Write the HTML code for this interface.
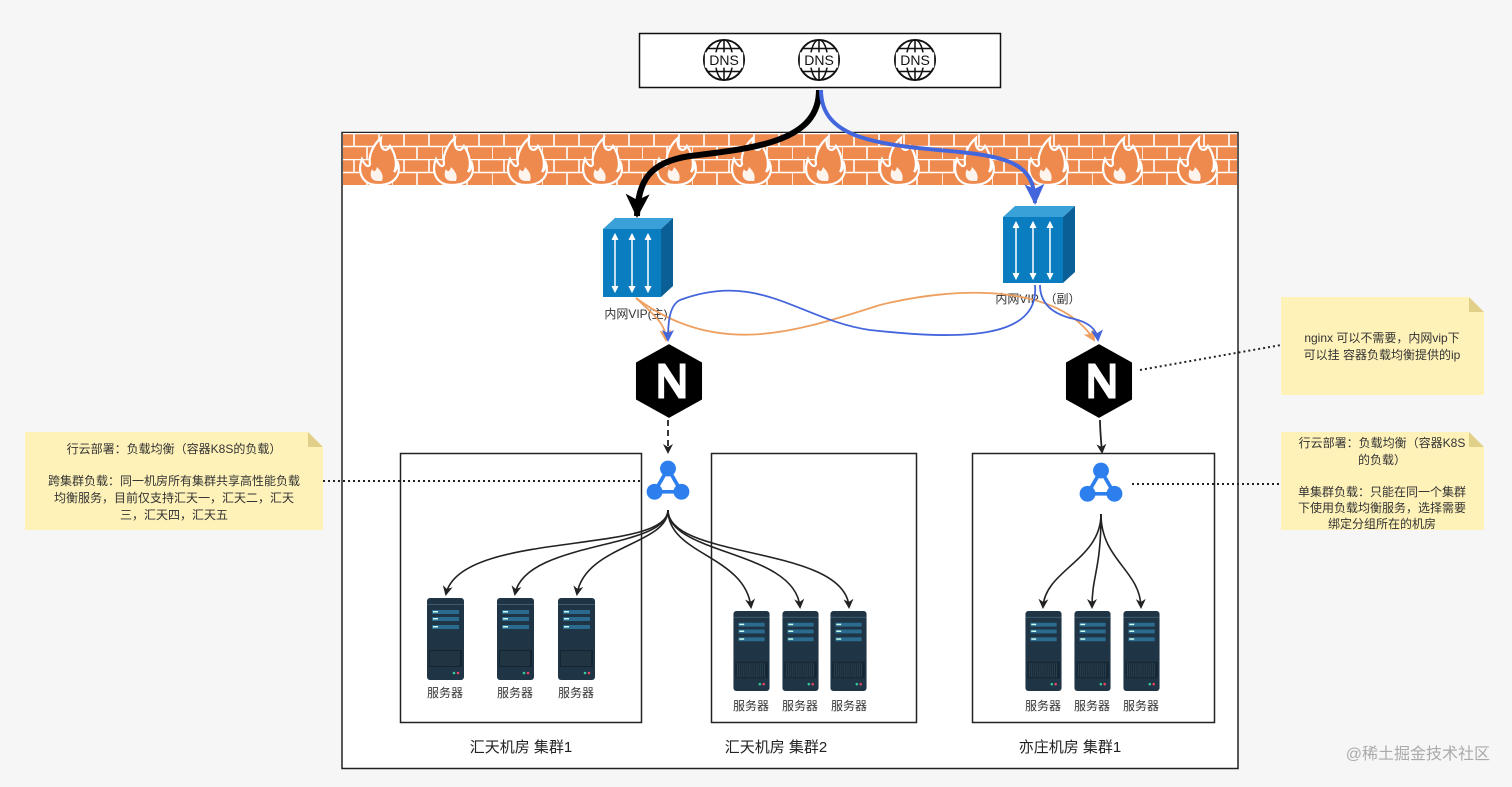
<!DOCTYPE html>
<html><head><meta charset="utf-8"><style>
html,body{margin:0;padding:0;background:#f6f6f6;}
svg{display:block;font-family:"Liberation Sans","Noto Sans CJK SC",sans-serif;}
</style></head><body>
<svg width="1512" height="787" viewBox="0 0 1512 787" xmlns="http://www.w3.org/2000/svg">
<defs>
<pattern id="brick" x="342" y="133" width="50" height="26" patternUnits="userSpaceOnUse">
<rect width="50" height="26" fill="#ef8a4f"/>
<path d="M0 0.5H50M0 13.5H50M12 0V13M37 0V13M0 13V26M25 13V26" stroke="#fff" stroke-width="1.6"/>
</pattern>
<marker id="ab" markerWidth="10" markerHeight="10" refX="8" refY="5" orient="auto" markerUnits="userSpaceOnUse"><path d="M0 0L10 5L0 10L3 5Z" fill="#222"/></marker>
<marker id="abk" markerWidth="30" markerHeight="30" refX="22" refY="15" orient="auto" markerUnits="userSpaceOnUse"><path d="M0 3L24 15L0 27L6 15Z" fill="#000"/></marker>
<marker id="abl" markerWidth="26" markerHeight="26" refX="19" refY="13" orient="auto" markerUnits="userSpaceOnUse"><path d="M0 3L21 13L0 23L5 13Z" fill="#4466dd"/></marker>
<marker id="abb" markerWidth="12" markerHeight="12" refX="10" refY="6" orient="auto" markerUnits="userSpaceOnUse"><path d="M0 0L12 6L0 12L3 6Z" fill="#4466dd"/></marker>
<marker id="abo" markerWidth="12" markerHeight="12" refX="10" refY="6" orient="auto" markerUnits="userSpaceOnUse"><path d="M0 0L12 6L0 12L3 6Z" fill="#eea060"/></marker>
<symbol id="srv" viewBox="0 0 37 82">
<rect x="0" y="0" width="37" height="82" rx="3" fill="#1f3545"/>
<rect x="0" y="6" width="37" height="1" fill="#3d5a6e"/>
<rect x="5" y="12" width="27" height="4" fill="#2c6b90"/><rect x="6" y="13" width="5" height="1.5" fill="#cfe"/>
<rect x="5" y="19" width="27" height="4" fill="#2c6b90"/><rect x="6" y="20" width="5" height="1.5" fill="#cfe"/>
<rect x="5" y="27" width="27" height="4" fill="#2c6b90"/><rect x="6" y="28" width="5" height="1.5" fill="#cfe"/>
<rect x="2" y="52" width="33" height="17" fill="#142430"/>
<path d="M4 53V68M6 53V68M8 53V68M10 53V68M12 53V68M14 53V68M16 53V68M18 53V68M20 53V68M22 53V68M24 53V68M26 53V68M28 53V68M30 53V68M32 53V68" stroke="#2d4555" stroke-width="1"/>
<circle cx="27" cy="75" r="1.3" fill="#3c9"/><circle cx="31" cy="75" r="1.3" fill="#e46"/>
</symbol>
<symbol id="lb" viewBox="0 0 36 36">
<path d="M18 7L7 26H29Z" fill="none" stroke="#2d7fee" stroke-width="3"/>
<circle cx="18" cy="7" r="6.5" fill="#2d7fee"/><circle cx="7" cy="26" r="6.5" fill="#2d7fee"/><circle cx="29" cy="26" r="6.5" fill="#2d7fee"/>
</symbol>
<symbol id="dns" viewBox="0 0 46 46">
<circle cx="23" cy="23" r="21" fill="#fff" stroke="#111" stroke-width="2"/>
<ellipse cx="23" cy="23" rx="9" ry="21" fill="none" stroke="#111" stroke-width="1.6"/>
<path d="M23 2V44M6 11H40M6 35H40" stroke="#111" stroke-width="1.6"/>
<rect x="3" y="15" width="40" height="16" fill="#fff"/>
</symbol>
<symbol id="ngx" viewBox="0 0 70 76">
<path d="M35 0L69 19V57L35 76L1 57V19Z" fill="#000"/>
<path d="M24 56V20H31L46 43V20H52V56H45L30 33V56Z" fill="#fff"/>
</symbol>
<g id="flame">
<path d="M0 0C-16 0 -21 -13 -16 -26C-13 -19 -9 -17 -8 -21C-10 -31 -3 -42 3 -47C1 -36 8 -31 12 -39C19 -29 19 -18 16 -13C19 -16 20 -18 19 -24C24 -13 19 0 0 0Z" fill="#ef8a4f" stroke="#fff" stroke-width="2.2"/>
<path d="M0 -4C-7 -4 -9 -10 -6 -16C-4 -12 -2 -14 -1 -18C3 -14 6 -10 4 -4Z" fill="#fff" opacity="0.9"/>
</g>
</defs>

<rect x="639.5" y="33.5" width="361" height="54" fill="#fff" stroke="#111" stroke-width="1.5"/>
<use href="#dns" x="702" y="38" width="44" height="44"/>
<use href="#dns" x="797" y="38" width="44" height="44"/>
<use href="#dns" x="893" y="38" width="44" height="44"/>
<text x="724" y="65" font-size="14" text-anchor="middle" fill="#111">DNS</text>
<text x="819" y="65" font-size="14" text-anchor="middle" fill="#111">DNS</text>
<text x="915" y="65" font-size="14" text-anchor="middle" fill="#111">DNS</text>

<rect x="342" y="132.5" width="896" height="636" fill="#fff" stroke="#222" stroke-width="1.5"/>
<rect x="343" y="133" width="894" height="53" fill="url(#brick)"/>
<g>
<use href="#flame" x="378" y="185"/><use href="#flame" x="452" y="185"/><use href="#flame" x="526" y="185"/><use href="#flame" x="601" y="185"/><use href="#flame" x="675" y="185"/><use href="#flame" x="750" y="185"/><use href="#flame" x="824" y="185"/><use href="#flame" x="898" y="185"/><use href="#flame" x="973" y="185"/><use href="#flame" x="1047" y="185"/><use href="#flame" x="1121" y="185"/><use href="#flame" x="1196" y="185"/>
</g>

<path d="M819 90C819 140 760 148 690 156C650 162 638 180 637 216" fill="none" stroke="#000" stroke-width="6" marker-end="url(#abk)"/>
<path d="M821 90C821 140 880 145 960 152C1020 158 1034 170 1035 203" fill="none" stroke="#4466dd" stroke-width="4" marker-end="url(#abl)"/>

<g>
<path d="M603 229L615 218H673L661 229Z" fill="#3aa0d8"/>
<path d="M661 229L673 218V286L661 297Z" fill="#0a5f96"/>
<rect x="603" y="229" width="58" height="68" fill="#0a7dc0"/>
<path d="M615 236V290M632 236V290M648 236V290" stroke="#fff" stroke-width="1.5"/>
<path d="M612 240L615 234L618 240M612 286L615 292L618 286M629 240L632 234L635 240M629 286L632 292L635 286M645 240L648 234L651 240M645 286L648 292L651 286" fill="#fff" stroke="#fff"/>
</g>
<g>
<path d="M1003 217L1015 206H1075L1063 217Z" fill="#3aa0d8"/>
<path d="M1063 217L1075 206V272L1063 283Z" fill="#0a5f96"/>
<rect x="1003" y="217" width="60" height="66" fill="#0a7dc0"/>
<path d="M1016 224V277M1033 224V277M1050 224V277" stroke="#fff" stroke-width="1.5"/>
<path d="M1013 228L1016 222L1019 228M1013 273L1016 279L1019 273M1030 228L1033 222L1036 228M1030 273L1033 279L1036 273M1047 228L1050 222L1053 228M1047 273L1050 279L1053 273" fill="#fff" stroke="#fff"/>
</g>
<text x="636" y="318" font-size="12" text-anchor="middle" fill="#333">内网VIP(主)</text>
<text x="1038" y="303" font-size="12" text-anchor="middle" fill="#333">内网VIP　（副）</text>

<path d="M636 298C660 320 665 325 666 340" fill="none" stroke="#eea060" stroke-width="1.8" marker-end="url(#abo)"/>
<path d="M636 298C720 360 800 330 880 305C960 285 1060 285 1094 340" fill="none" stroke="#eea060" stroke-width="1.8" marker-end="url(#abo)"/>
<path d="M1035 285C1040 340 960 340 870 330C800 320 760 270 680 300C670 305 668 320 668 340" fill="none" stroke="#4466dd" stroke-width="1.8" marker-end="url(#abb)"/>
<path d="M1040 285C1040 300 1048 312 1070 318C1090 322 1097 330 1098 340" fill="none" stroke="#4466dd" stroke-width="1.8" marker-end="url(#abb)"/>

<use href="#ngx" x="635" y="344" width="68" height="74"/>
<use href="#ngx" x="1065" y="344" width="68" height="74"/>

<path d="M668 420V452" stroke="#222" stroke-width="1.8" stroke-dasharray="6 4" marker-end="url(#ab)"/>
<path d="M1100 420C1100 430 1101 440 1102 452" fill="none" stroke="#222" stroke-width="1.8" marker-end="url(#ab)"/>

<rect x="400.5" y="453.5" width="241" height="269" fill="none" stroke="#222" stroke-width="1.5"/>
<rect x="711.5" y="453.5" width="205" height="269" fill="none" stroke="#222" stroke-width="1.5"/>
<rect x="972.5" y="453.5" width="242" height="269" fill="none" stroke="#222" stroke-width="1.5"/>

<use href="#lb" x="646" y="460" width="44" height="44"/>
<use href="#lb" x="1079" y="462" width="44" height="44"/>

<g fill="none" stroke="#222" stroke-width="1.6" marker-end="url(#ab)">
<path d="M668 510C668 555 460 530 446 594"/>
<path d="M668 510C668 550 525 540 515 594"/>
<path d="M668 510C668 545 585 545 577 594"/>
<path d="M668 510C668 555 745 555 751 607"/>
<path d="M668 510C668 555 795 550 800 607"/>
<path d="M668 510C668 560 845 545 849 607"/>
<path d="M1101 514C1101 560 1045 570 1043 607"/>
<path d="M1101 514C1101 570 1092 575 1092 607"/>
<path d="M1101 514C1101 560 1140 570 1141 607"/>
</g>

<use href="#srv" x="427" y="598" width="37" height="82"/>
<use href="#srv" x="497" y="598" width="37" height="82"/>
<use href="#srv" x="558" y="598" width="37" height="82"/>
<use href="#srv" x="733" y="611" width="37" height="80"/>
<use href="#srv" x="782" y="611" width="37" height="80"/>
<use href="#srv" x="830" y="611" width="37" height="80"/>
<use href="#srv" x="1025" y="611" width="37" height="80"/>
<use href="#srv" x="1074" y="611" width="37" height="80"/>
<use href="#srv" x="1123" y="611" width="37" height="80"/>
<g font-size="12" fill="#333" text-anchor="middle">
<text x="445" y="697">服务器</text><text x="515" y="697">服务器</text><text x="576" y="697">服务器</text>
<text x="751" y="710">服务器</text><text x="800" y="710">服务器</text><text x="849" y="710">服务器</text>
<text x="1043" y="710">服务器</text><text x="1092" y="710">服务器</text><text x="1141" y="710">服务器</text>
</g>
<g font-size="15" fill="#222" text-anchor="middle">
<text x="521" y="752">汇天机房 集群1</text>
<text x="776" y="752">汇天机房 集群2</text>
<text x="1070" y="752">亦庄机房 集群1</text>
</g>

<path d="M25 432H308L323 447V530H25Z" fill="#fff2b3" opacity="0.9"/>
<path d="M308 432V447H323Z" fill="#e0d08a"/>
<g font-size="12" fill="#333" text-anchor="middle">
<text x="174" y="453">行云部署：负载均衡（容器K8S的负载）</text>
<text x="174" y="485">跨集群负载：同一机房所有集群共享高性能负载</text>
<text x="174" y="502">均衡服务，目前仅支持汇天一，汇天二，汇天</text>
<text x="174" y="519">三，汇天四，汇天五</text>
</g>
<path d="M1281 297H1469L1484 312V395H1281Z" fill="#fff2b3" opacity="0.9"/>
<path d="M1469 297V312H1484Z" fill="#e0d08a"/>
<g font-size="12" fill="#333" text-anchor="middle">
<text x="1382" y="342">nginx 可以不需要，内网vip下</text>
<text x="1382" y="359">可以挂 容器负载均衡提供的ip</text>
</g>
<path d="M1281 432H1469L1484 447V530H1281Z" fill="#fff2b3" opacity="0.9"/>
<path d="M1469 432V447H1484Z" fill="#e0d08a"/>
<g font-size="12" fill="#333" text-anchor="middle">
<text x="1382" y="447">行云部署：负载均衡（容器K8S</text>
<text x="1382" y="464">的负载）</text>
<text x="1382" y="496">单集群负载：只能在同一个集群</text>
<text x="1382" y="512">下使用负载均衡服务，选择需要</text>
<text x="1382" y="528">绑定分组所在的机房</text>
</g>

<g stroke="#222" stroke-width="2" stroke-dasharray="2 3">
<path d="M323 481H640"/>
<path d="M1140 370L1281 345"/>
<path d="M1132 484H1281"/>
</g>

<text x="1490" y="759" font-size="16" fill="#aaa" text-anchor="end">@稀土掘金技术社区</text>
</svg>
</body></html>
